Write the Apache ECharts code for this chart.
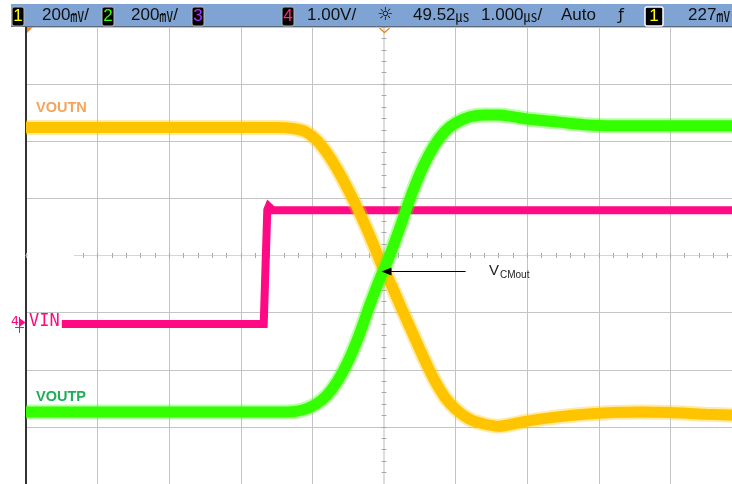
<!DOCTYPE html>
<html><head><meta charset="utf-8">
<script src="https://cdn.jsdelivr.net/npm/echarts@6/dist/echarts.min.js"></script>
<style>html,body{margin:0;padding:0;background:#fff;overflow:hidden;}#c{width:742px;height:484px;}</style>
</head><body><div id="c"></div>
<script>
// time axis in microseconds (1 us/div), vertical in screen divisions
const timeUs = [-5.0, -4.0, -3.0, -2.0, -1.5, -1.25, -1.1, -0.95, -0.8, -0.65, -0.5, -0.35, -0.2, -0.05, 0, 0.1, 0.25, 0.4, 0.55, 0.7, 0.85, 1.0, 1.2, 1.4, 1.6, 1.8, 2.0, 2.4, 2.8, 3.2, 3.6, 4.0, 4.5, 5.0];
const voutn = [2.24, 2.24, 2.24, 2.24, 2.24, 2.22, 2.17, 2.03, 1.80, 1.50, 1.15, 0.77, 0.35, -0.11, -0.25, -0.51, -0.94, -1.36, -1.78, -2.17, -2.48, -2.69, -2.87, -2.95, -2.99, -2.95, -2.90, -2.83, -2.78, -2.75, -2.74, -2.75, -2.78, -2.80];
const voutp = [-2.74, -2.74, -2.74, -2.74, -2.74, -2.73, -2.69, -2.60, -2.45, -2.20, -1.85, -1.40, -0.87, -0.38, -0.25, 0.07, 0.59, 1.12, 1.57, 1.92, 2.17, 2.32, 2.43, 2.46, 2.46, 2.43, 2.39, 2.34, 2.29, 2.27, 2.27, 2.27, 2.27, 2.27];
const vinTime = [-4.5, -1.68, -1.63, -1.61, -1.55, 5.0];
const vin = [-1.2, -1.2, 0.80, 0.86, 0.79, 0.79];
const annotationFrom = [1.14, -0.28];
const annotationTo = [0.035, -0.28];
const headerTexts = ['200', '200', '1.00V/', '49.52', '1.000', 'Auto', '227'];

const pair = (xs, ys) => xs.map((x, i) => [x, ys[i]]);

const YEL = '#ffc400', GRN = '#33ff00', PNK = '#ff0a84';
const chart = echarts.init(document.getElementById('c'), null, {renderer: 'canvas'});

function txt(x, y, text, font, fill, align, rich) {
  const s = {text: text, font: font, fill: fill, align: align || 'left', textAlign: align || 'left',
    verticalAlign: 'middle', textVerticalAlign: 'middle'};
  if (rich) s.rich = rich;
  return {type: 'text', x: x, y: y, z: 100, style: s};
}
function box(x, w, label, color, stroke, lw) {
  return [
    {type: 'rect', z: 99, shape: {x: x, y: 7, width: w, height: 19, r: 2}, style: {fill: '#000', stroke: stroke || '#b8b8b8', lineWidth: lw || 1}},
    txt(x + w / 2, 16.5, label, '17px "Liberation Sans"', color, 'center')
  ];
}
const HF = '17px "Liberation Sans"';
const unitRich = {a: {fontSize: 17, fontFamily: 'Liberation Sans', fill: '#111'}, u: {fontSize: 14, fontFamily: 'Noto Sans CJK SC', fill: '#111'}};

const graphics = [
  {type: 'rect', z: 98, shape: {x: 11, y: 4, width: 731, height: 23}, style: {fill: '#7fa3d3'}},
  {type: 'line', z: 98, shape: {x1: 11, y1: 26.5, x2: 742, y2: 26.5}, style: {stroke: '#5c6b80', lineWidth: 1}},
  ...box(12, 12, '1', '#ffff00'),
  txt(42, 15.5, '{a|' + headerTexts[0] + '}{u|㎷}{a|/}', HF, '#111', 'left', unitRich),
  ...box(102, 12, '2', '#33ff00'),
  txt(131, 15.5, '{a|' + headerTexts[1] + '}{u|㎷}{a|/}', HF, '#111', 'left', unitRich),
  ...box(192, 12, '3', '#b030ff'),
  ...box(282, 12, '4', '#ff2a8a'),
  txt(307, 15.5, headerTexts[2], HF, '#111'),
  txt(385, 15.5, '☼', '18px "DejaVu Sans"', '#111', 'center'),
  txt(413, 15.5, '{a|' + headerTexts[3] + '}{u|㎲}', HF, '#111', 'left', unitRich),
  txt(481, 15.5, '{a|' + headerTexts[4] + '}{u|㎲}{a|/}', HF, '#111', 'left', unitRich),
  txt(561, 15.5, headerTexts[5], HF, '#111'),
  txt(621, 15.5, 'ƒ', '16px "DejaVu Sans"', '#111', 'center'),
  ...box(645, 18, '1', '#ffff00', '#ffffff', 1.5),
  txt(688, 15.5, '{a|' + headerTexts[6] + '}{u|㎷}', HF, '#111', 'left', unitRich),
  // cover the start of the horizontal centre line (it begins at the VIN marker column in the reference)
  {type: 'rect', z: 1, shape: {x: 28, y: 252, width: 46, height: 8}, style: {fill: '#ffffff'}},
  // trigger markers
  {type: 'polygon', z: 97, shape: {points: [[27, 27], [33, 27], [27, 33]]}, style: {fill: '#f08a24'}},
  {type: 'polyline', z: 97, shape: {points: [[379.5, 28], [384.5, 32.5], [389.5, 28]]}, style: {stroke: '#f08a24', lineWidth: 1.5, fill: null}},
  // channel 4 ground marker
  txt(11, 322, '4', '13px "DejaVu Sans Mono"', PNK),
  {type: 'line', z: 97, shape: {x1: 19.5, y1: 317, x2: 19.5, y2: 333}, style: {stroke: PNK, lineWidth: 1}},
  {type: 'line', z: 97, shape: {x1: 15, y1: 327.5, x2: 24, y2: 327.5}, style: {stroke: PNK, lineWidth: 1}},
  {type: 'polygon', z: 97, shape: {points: [[20, 318.5], [25.5, 322.5], [20, 326.5]]}, style: {fill: PNK}},
  txt(29, 322, 'VIN', '17px "DejaVu Sans Mono"', PNK),
  txt(36, 107.5, 'VOUTN', 'bold 14.5px "Liberation Sans"', '#f5a45c'),
  txt(36, 396.5, 'VOUTP', 'bold 14.5px "Liberation Sans"', '#1caf55'),
  txt(489, 271, 'V', '15px "Liberation Sans"', '#222'),
  txt(500, 275.5, 'CMout', '10px "Liberation Sans"', '#222')
];

const hidden = {axisLabel: {show: false}, splitLine: {show: false}};
const centerTick = (inside) => ({
  axisTick: {show: true, inside: inside, length: 2.5, lineStyle: {color: '#a8a8a8'}},
  minorTick: {show: true, splitNumber: 5, length: 2.5, lineStyle: {color: '#a8a8a8'}}
});

const option = {
  animation: false,
  backgroundColor: '#ffffff',
  grid: {left: 26, right: 0, top: 27, bottom: -1, containLabel: false},
  xAxis: [
    {type: 'value', min: -5, max: 5, interval: 1, axisLine: {show: false, onZero: false}, axisTick: {show: false}, axisLabel: {show: false},
      splitLine: {show: true, lineStyle: {color: '#c4c4c4', width: 1}}},
    Object.assign({type: 'value', min: -5, max: 5, interval: 1, position: 'bottom',
      axisLine: {show: true, onZero: true, onZeroAxisIndex: 0, lineStyle: {color: '#d6d6d6', width: 1}}}, hidden, centerTick(false)),
    Object.assign({type: 'value', min: -5, max: 5, interval: 1, position: 'bottom',
      axisLine: {show: false, onZero: true, onZeroAxisIndex: 0}}, hidden, centerTick(true))
  ],
  yAxis: [
    {type: 'value', min: -4, max: 4, interval: 1, axisLine: {show: true, onZero: false, lineStyle: {color: '#333', width: 2}}, axisTick: {show: false}, axisLabel: {show: false},
      splitLine: {show: true, lineStyle: {color: '#c4c4c4', width: 1}}},
    Object.assign({type: 'value', min: -4, max: 4, interval: 1, position: 'left',
      axisLine: {show: true, onZero: true, onZeroAxisIndex: 0, lineStyle: {color: '#dcdcdc', width: 2}}}, hidden, centerTick(false)),
    Object.assign({type: 'value', min: -4, max: 4, interval: 1, position: 'left',
      axisLine: {show: false, onZero: true, onZeroAxisIndex: 0}}, hidden, centerTick(true))
  ],
  graphic: graphics,
  series: [
    {type: 'line', data: pair(vinTime, vin), showSymbol: false, silent: true, z: 3,
      lineStyle: {color: PNK, width: 8, cap: 'butt', join: 'miter'}},
    {type: 'line', data: pair(timeUs, voutn), showSymbol: false, silent: true, smooth: 0.3, z: 3,
      lineStyle: {color: YEL, width: 15, opacity: 0.35}},
    {type: 'line', data: pair(timeUs, voutn), showSymbol: false, silent: true, smooth: 0.3, z: 3,
      lineStyle: {color: YEL, width: 11}},
    {type: 'line', data: pair(timeUs, voutp), showSymbol: false, silent: true, smooth: 0.3, z: 3,
      lineStyle: {color: GRN, width: 15, opacity: 0.35}},
    {type: 'line', data: pair(timeUs, voutp), showSymbol: false, silent: true, smooth: 0.3, z: 3,
      lineStyle: {color: GRN, width: 11},
      markLine: {silent: true, animation: false, symbol: ['none', 'triangle'], symbolSize: [8, 10],
        lineStyle: {color: '#000', width: 1, type: 'solid'}, label: {show: false},
        data: [[{coord: annotationFrom}, {coord: annotationTo}]]}}
  ]
};
chart.setOption(option);
</script></body></html>
